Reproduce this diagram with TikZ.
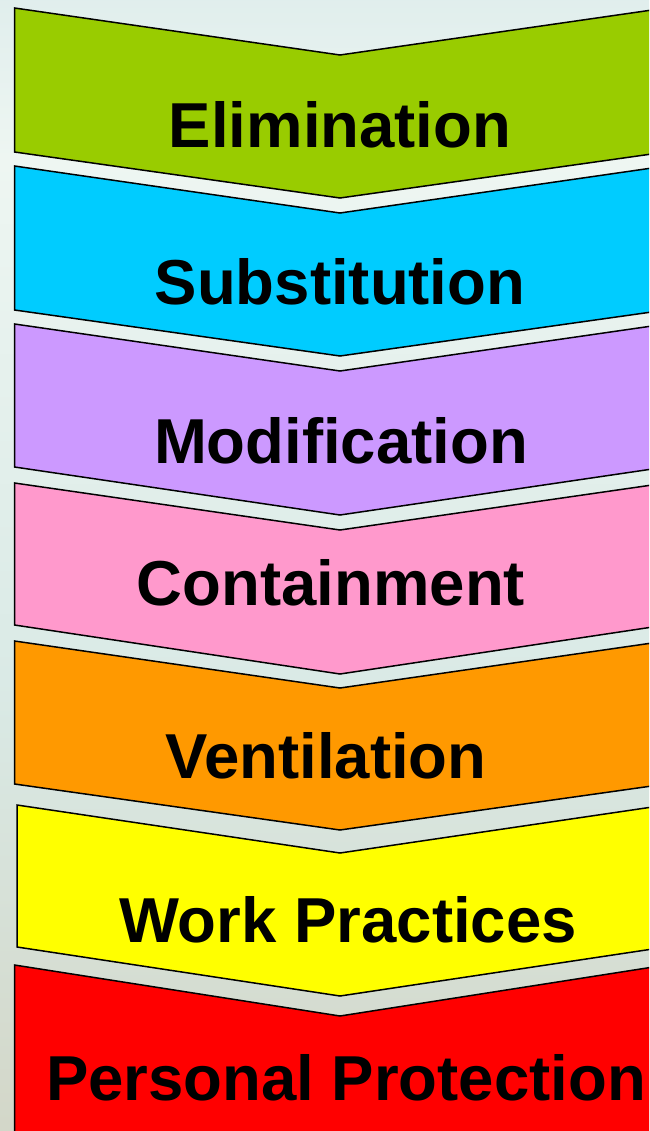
\documentclass[tikz,border=0pt]{standalone}
\usepackage{fontspec}
\setmainfont{Liberation Sans}
\definecolor{bgtop}{RGB}{176,210,218}
\definecolor{bghigh}{RGB}{238,246,242}
\definecolor{bgmid}{RGB}{218,234,230}
\definecolor{bglow}{RGB}{210,212,196}
\definecolor{bgbot}{RGB}{200,196,176}
\pgfdeclareverticalshading{backdrop}{100bp}{
  color(0bp)=(bgbot); color(22bp)=(bglow); color(45bp)=(bgmid);
  color(68bp)=(bghigh); color(100bp)=(bgtop)}
\definecolor{elimgreen}{RGB}{153,204,0}
\definecolor{substblue}{RGB}{0,204,255}
\definecolor{modpurple}{RGB}{204,153,255}
\definecolor{contpink}{RGB}{255,153,204}
\definecolor{ventorange}{RGB}{255,153,0}
\definecolor{workyellow}{RGB}{255,255,0}
\definecolor{persred}{RGB}{255,0,0}
\tikzset{
  stage/.style={draw=black, line width=1.5pt, line join=miter},
  stagelabel/.style={anchor=base, inner sep=0pt,
    font=\fontsize{63.5}{70}\selectfont\bfseries}
}
\begin{document}
\begin{tikzpicture}[x=1pt, y=-1pt]
\useasboundingbox (0,0) rectangle (649,1131);
\clip (0,0) rectangle (649,1131);
% backdrop
\shade[shading=backdrop] (0,0) rectangle (649,1131);
% stages, top to bottom
\draw[stage, fill=elimgreen]  (14.5,8)   -- (340,55)   -- (666,8)   -- (666,152) -- (340,198)  -- (14.5,152) -- cycle;
\draw[stage, fill=substblue]  (14.5,166) -- (340,213)  -- (666,166) -- (666,310) -- (340,356)  -- (14.5,310) -- cycle;
\draw[stage, fill=modpurple]  (14.5,324) -- (340,371)  -- (666,324) -- (666,467) -- (340,515)  -- (14.5,467) -- cycle;
\draw[stage, fill=contpink]   (14.5,483) -- (340,530)  -- (666,483) -- (666,625) -- (340,674)  -- (14.5,625) -- cycle;
\draw[stage, fill=ventorange] (14.5,641) -- (340,688)  -- (666,641) -- (666,784) -- (340,830)  -- (14.5,784) -- cycle;
\draw[stage, fill=workyellow] (17,805)   -- (340,853)  -- (666,805) -- (666,947) -- (340,996)  -- (17,947)   -- cycle;
\draw[stage, fill=persred]    (14.5,965) -- (340,1016) -- (666,965) -- (666,1200) -- (14.5,1200) -- cycle;
% labels
\node[stagelabel] (elim) at (340,148)  {Elimination};
\node[stagelabel] (subst) at (340,305) {Substitution};
\node[stagelabel] (modif) at (341,463) {Modification};
\node[stagelabel] (cont) at (331,605)  {Containment};
\node[stagelabel] (vent) at (326,778)  {Ventilation};
\node[stagelabel] (work) at (348,942)  {Work Practices};
\node[stagelabel] (pers) at (346,1100) {Personal Protection};
\end{tikzpicture}
\end{document}
